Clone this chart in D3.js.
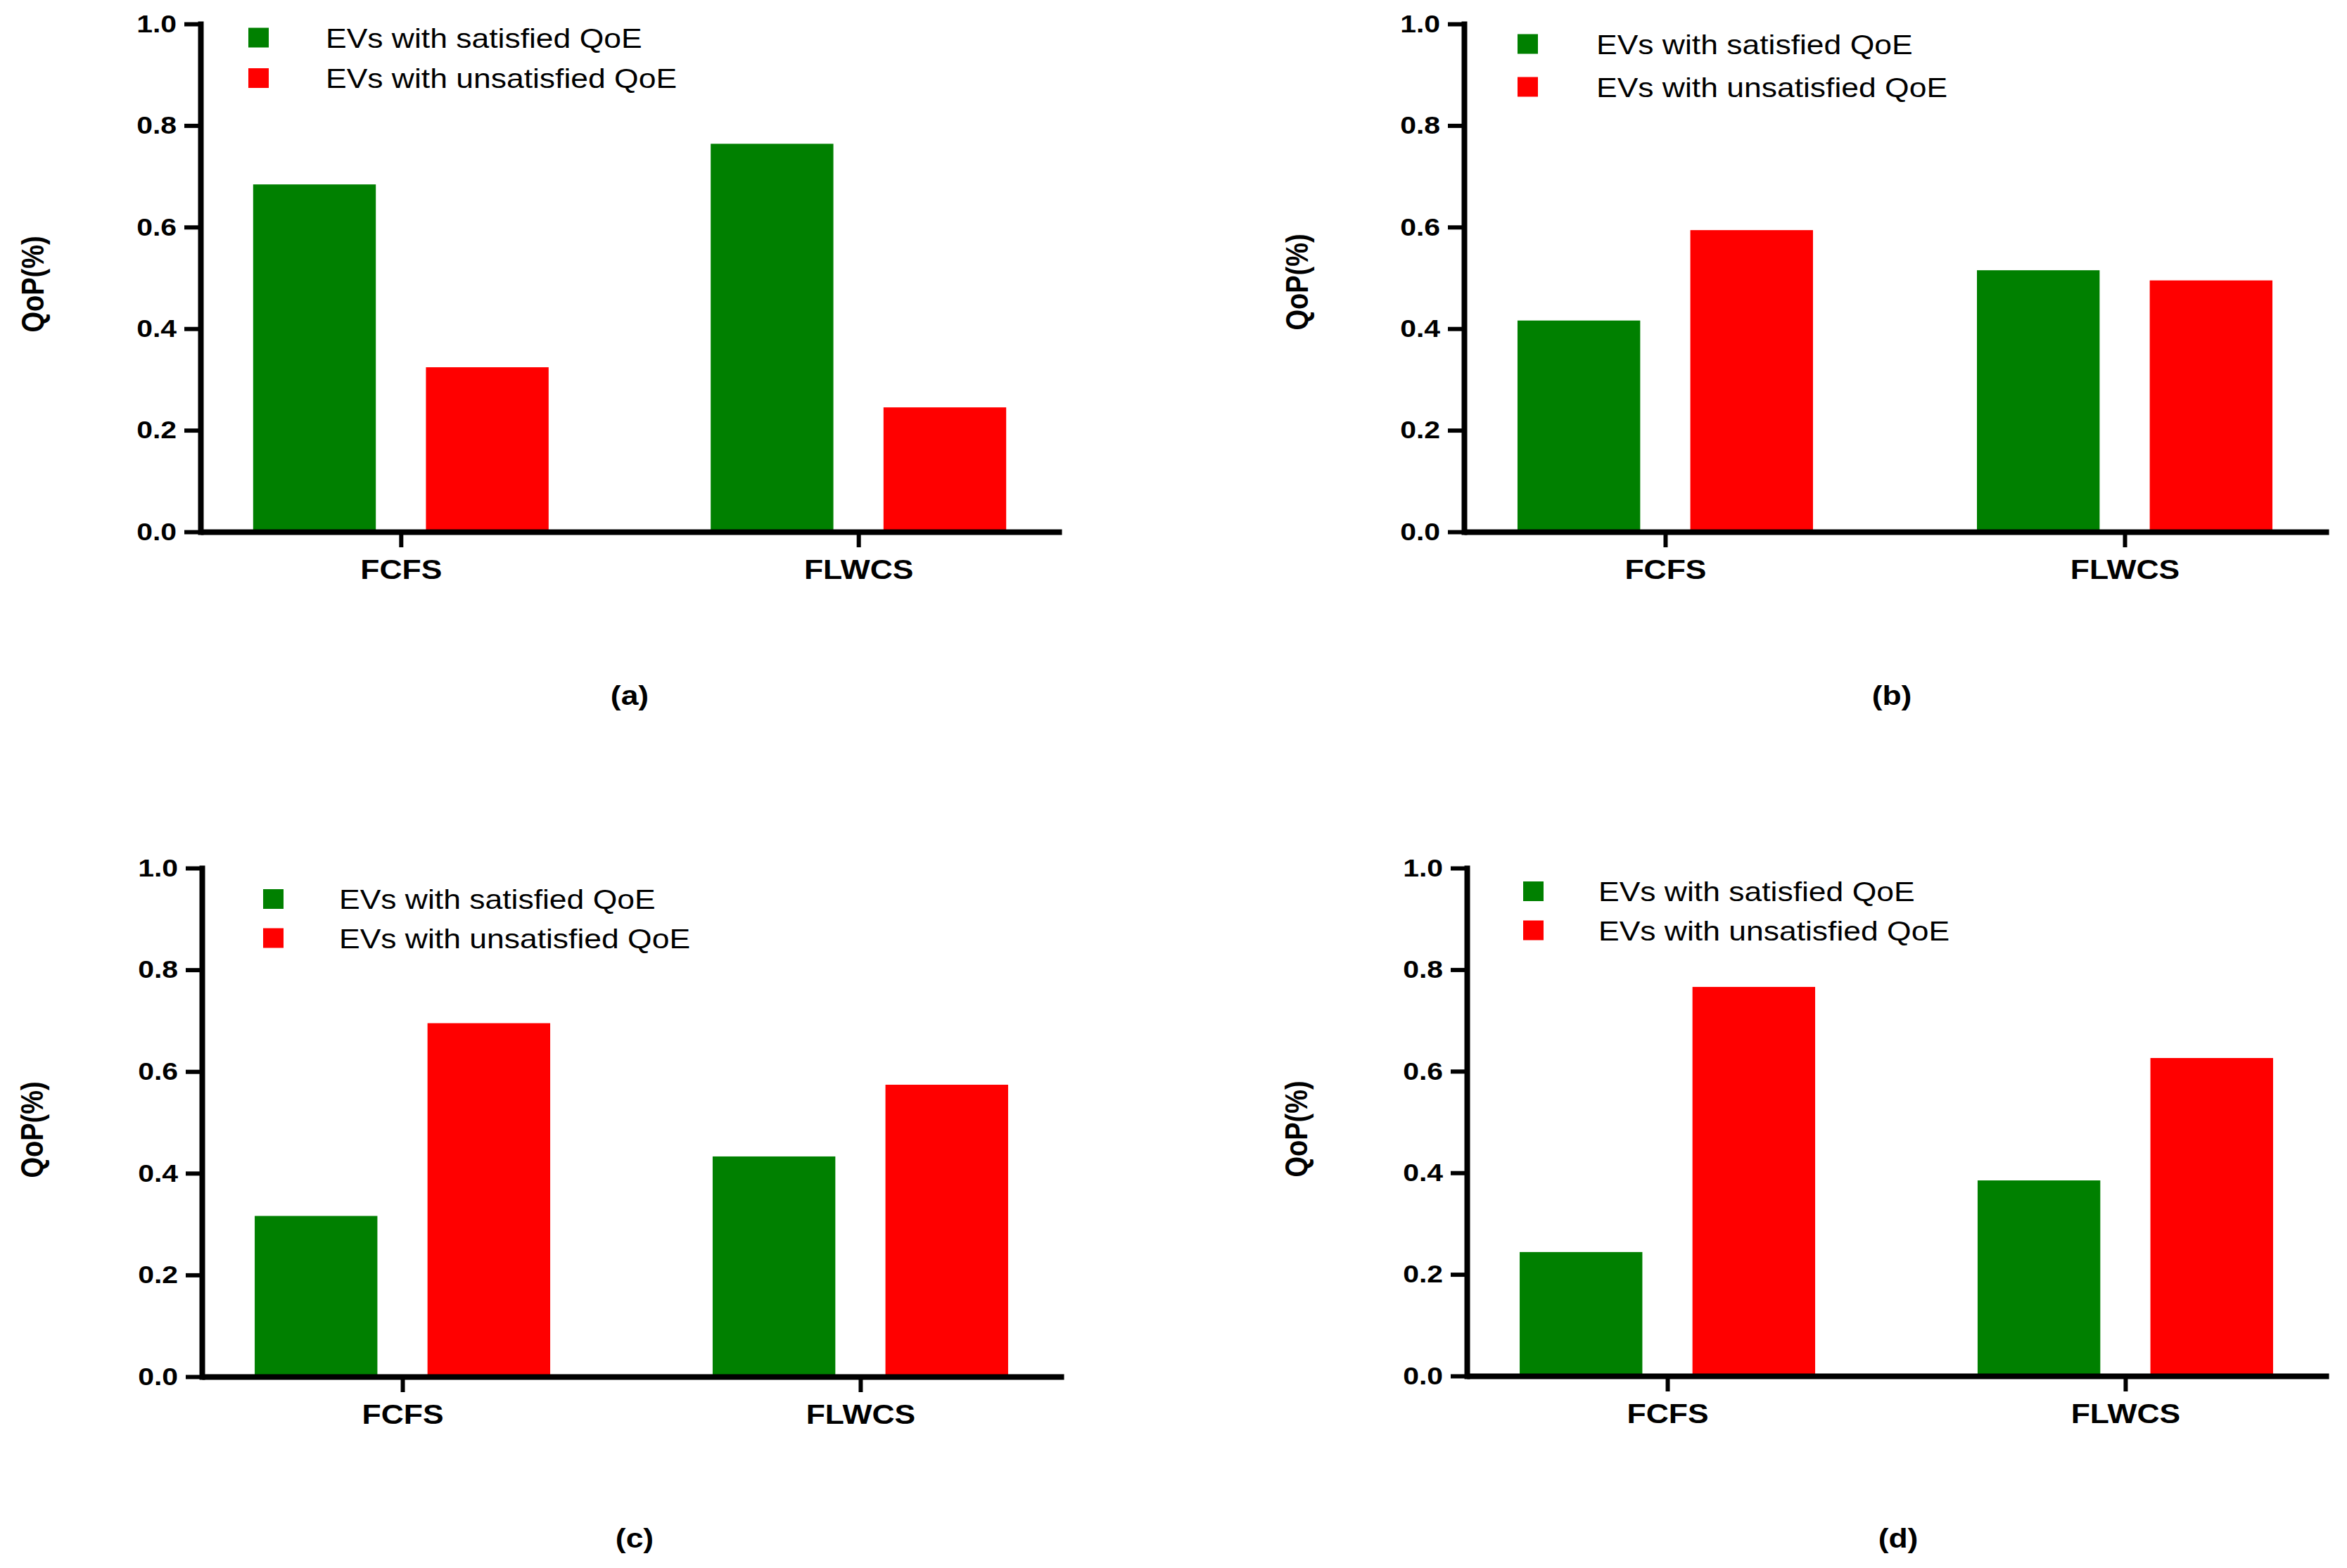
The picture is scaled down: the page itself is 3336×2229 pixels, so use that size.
<!DOCTYPE html>
<html>
<head>
<meta charset="utf-8">
<script src="https://cdn.jsdelivr.net/npm/d3@7"></script>
<style>
    body { margin: 0; background: #fff; }
    svg { display: block; font-family: "Liberation Sans", Arial, sans-serif; }
</style>
</head>
<body>
<div id="chart"></div>
<script>
// data
var categories = ["FCFS", "FLWCS"];
var seriesNames = ["EVs with satisfied QoE", "EVs with unsatisfied QoE"];
var seriesColors = ["#008000", "#ff0000"];
var panelLabels = ["(a)", "(b)", "(c)", "(d)"];
var satisfied = [[0.684, 0.764], [0.416, 0.515], [0.316, 0.433], [0.244, 0.385]];
var unsatisfied = [[0.324, 0.245], [0.594, 0.495], [0.695, 0.574], [0.766, 0.626]];
var yTicks = [0, 0.2, 0.4, 0.6, 0.8, 1.0];

var svgWidth = 3336;
var svgHeight = 2229;

// the original artwork is stretched sideways, so text is too
var sx = 1.17;

// panel placement: x0 = y axis, top = 1.0, bottom = 0.0, xEnd = end of x axis
var layout = [
    { x0: 285,  top: 34,   bottom: 756,  xEnd: 1509, legX: 68, legTxt: 178, legY: [20, 77.5], title: [46, 404],   cap: [895, 1002] },
    { x0: 2081, top: 34,   bottom: 756,  xEnd: 3310, legX: 76, legTxt: 188, legY: [29, 90],   title: [1843, 401],  cap: [2689, 1002] },
    { x0: 287,  top: 1234, bottom: 1957, xEnd: 1512, legX: 87, legTxt: 195, legY: [44.5, 100], title: [45, 1606],  cap: [902, 2200] },
    { x0: 2085, top: 1234, bottom: 1956, xEnd: 3310, legX: 80, legTxt: 187, legY: [33.5, 89], title: [1842, 1605], cap: [2698, 2200] }
];

var svg = d3.select("#chart")
    .append("svg")
    .attr("width", svgWidth)
    .attr("height", svgHeight);

svg.append("rect")
    .attr("width", svgWidth)
    .attr("height", svgHeight)
    .attr("fill", "#fff");

function stretch(x, y) {
    return `translate(${x},${y}) scale(${sx},1)`;
}

layout.forEach(function (p, i) {
    var rows = categories.map(function (c, j) {
        return { cat: c, values: [satisfied[i][j], unsatisfied[i][j]] };
    });

    var g = svg.append("g")
        .attr("transform", `translate(${p.x0}, ${p.top})`);

    var plotH = p.bottom - p.top;
    var plotW = p.xEnd - p.x0;

    var yScale = d3.scaleLinear().domain([0, 1]).range([plotH, 0]);
    var xScale = d3.scalePoint().domain(categories).range([0, plotW]).padding(0.441).align(0.4965);
    var inner = d3.scaleBand().domain(seriesNames).range([-210, 210]).paddingInner(0.29);

    // bars
    var groups = g.selectAll(".grp")
        .data(rows)
        .enter()
        .append("g")
        .attr("transform", d => `translate(${xScale(d.cat)},0)`);

    groups.selectAll("rect")
        .data(d => d.values.map((v, k) => ({ name: seriesNames[k], value: v, color: seriesColors[k] })))
        .enter()
        .append("rect")
        .attr("x", d => inner(d.name))
        .attr("width", inner.bandwidth())
        .attr("y", d => yScale(d.value))
        .attr("height", d => plotH - yScale(d.value))
        .attr("fill", d => d.color);

    // y axis
    var yAxis = g.append("g")
        .call(d3.axisLeft(yScale)
            .tickValues(yTicks)
            .tickFormat(d3.format(".1f"))
            .tickSize(23)
            .tickSizeOuter(0)
            .tickPadding(6));
    yAxis.select(".domain")
        .attr("stroke", "#000")
        .attr("stroke-width", 8)
        .attr("stroke-linecap", "square");
    yAxis.selectAll(".tick line")
        .attr("stroke", "#000")
        .attr("stroke-width", 6);
    yAxis.selectAll(".tick text")
        .attr("fill", "#000")
        .attr("font-size", 35)
        .attr("font-weight", "bold")
        .attr("font-family", "'Liberation Sans', Arial, sans-serif")
        .attr("transform", `scale(${sx},1)`);

    // x axis
    var xAxis = g.append("g")
        .attr("transform", `translate(0, ${plotH})`)
        .call(d3.axisBottom(xScale)
            .tickSize(22)
            .tickSizeOuter(0)
            .tickPadding(18));
    xAxis.select(".domain")
        .attr("stroke", "#000")
        .attr("stroke-width", 8);
    xAxis.selectAll(".tick line")
        .attr("stroke", "#000")
        .attr("stroke-width", 6);
    xAxis.selectAll(".tick text")
        .attr("fill", "#000")
        .attr("font-size", 38)
        .attr("font-weight", "bold")
        .attr("font-family", "'Liberation Sans', Arial, sans-serif")
        .attr("transform", `scale(${sx},1)`);

    // legend
    var legend = g.selectAll(".leg")
        .data(seriesNames)
        .enter()
        .append("g")
        .attr("transform", (d, k) => `translate(0, ${p.legY[k]})`);

    legend.append("rect")
        .attr("x", p.legX)
        .attr("y", -14.5)
        .attr("width", 29)
        .attr("height", 28)
        .attr("fill", (d, k) => seriesColors[k]);

    legend.append("text")
        .attr("transform", stretch(p.legTxt, 13.5))
        .attr("font-size", 38)
        .attr("fill", "#000")
        .text(d => d);

    // y axis title
    svg.append("text")
        .attr("transform", stretch(p.title[0], p.title[1]) + " rotate(-90)")
        .attr("text-anchor", "middle")
        .attr("dy", "0.35em")
        .attr("font-size", 38)
        .attr("font-weight", "bold")
        .text("QoP(%)");

    // panel caption
    svg.append("text")
        .attr("transform", stretch(p.cap[0], p.cap[1]))
        .attr("text-anchor", "middle")
        .attr("font-size", 38)
        .attr("font-weight", "bold")
        .text(panelLabels[i]);
});
</script>
</body>
</html>
